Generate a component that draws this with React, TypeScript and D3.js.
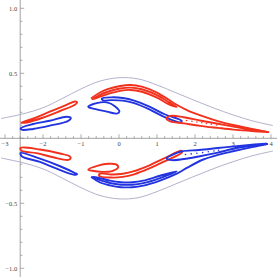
import React from "react";
import * as d3 from "d3";

type P = [number, number];

const W = 277;
const H = 277;

const xMajor = [-3, -2, -1, 0, 1, 2, 3, 4];
const xLabels = ["\u22123", "\u22122", "\u22121", "0", "1", "2", "3", "4"];
const yMajor = [-1, -0.5, 0.5, 1];
const yLabels = ["\u22121.0", "\u22120.5", "0.5", "1.0"];

// gray envelopes
const grayUpper: P[] = [[-3.1, 0.152], [-2.5, 0.19], [-2, 0.235], [-1.5, 0.305], [-1, 0.38], [-0.5, 0.44], [0, 0.466], [0.5, 0.457], [1, 0.41], [1.5, 0.35], [2, 0.29], [2.5, 0.232], [3, 0.18], [3.5, 0.135], [4.05, 0.098]];
const grayLower: P[] = [[-3.1, -0.152], [-2.5, -0.19], [-2, -0.235], [-1.5, -0.305], [-1, -0.38], [-0.5, -0.44], [0, -0.466], [0.5, -0.457], [1, -0.41], [1.5, -0.35], [2, -0.29], [2.5, -0.232], [3, -0.18], [3.5, -0.135], [4.05, -0.098]];

// ---------- upper half ----------
const redLeafUpper: P[] = [[-2.57, 0.12], [-2.26, 0.152], [-1.82, 0.205], [-1.38, 0.258], [-1.16, 0.283], [-1.1, 0.277], [-1.16, 0.258], [-1.55, 0.21], [-1.99, 0.16], [-2.43, 0.122]];
const blueLeafUpper: P[] = [[-2.59, 0.077], [-2.26, 0.11], [-1.82, 0.135], [-1.38, 0.166], [-1.27, 0.158], [-1.33, 0.135], [-1.82, 0.097], [-2.26, 0.072], [-2.56, 0.066]];
const blueDropUpper: P[] = [[-0.81, 0.243], [-0.59, 0.27], [-0.32, 0.276], [-0.1, 0.245], [0.01, 0.205], [-0.06, 0.19], [-0.32, 0.205], [-0.59, 0.222], [-0.78, 0.236]];
const redBandOuterUpper: P[] = [[-0.72, 0.31], [-0.5, 0.352], [-0.3, 0.378], [0.03, 0.402], [0.3, 0.41], [0.6, 0.397], [1.0, 0.352], [1.3, 0.298], [1.52, 0.258], [1.8, 0.215], [2.2, 0.17], [2.6, 0.132], [3.0, 0.102], [3.5, 0.072], [3.93, 0.048]];
const redBandLoopUpper: P[] = [[-0.7, 0.3], [-0.5, 0.335], [-0.3, 0.358], [0.03, 0.383], [0.3, 0.39], [0.6, 0.377], [1.0, 0.332], [1.3, 0.28], [1.52, 0.242], [1.3, 0.263], [1.0, 0.313], [0.6, 0.358], [0.3, 0.372], [0.03, 0.365], [-0.3, 0.34], [-0.5, 0.32]];
const blueBandUpper: P[] = [[-0.45, 0.306], [-0.2, 0.315], [0.1, 0.31], [0.4, 0.29], [0.8, 0.243], [1.2, 0.185], [1.65, 0.134], [1.62, 0.122], [1.2, 0.163], [0.8, 0.222], [0.4, 0.27], [0.1, 0.29], [-0.2, 0.294], [-0.42, 0.292]];
const redLoopUpper: P[] = [[1.25, 0.15], [1.35, 0.172], [1.7, 0.162], [2.13, 0.137], [2.6, 0.112], [3.01, 0.09], [3.5, 0.066], [3.93, 0.047], [3.5, 0.056], [3.01, 0.067], [2.6, 0.08], [2.13, 0.096], [1.7, 0.115], [1.35, 0.13]];
const redDotsUpper: P[] = [[1.78, 0.137], [1.92, 0.131], [2.05, 0.125], [2.18, 0.12], [2.3, 0.114], [2.43, 0.108], [2.57, 0.102]];

// ---------- lower half ----------
const redLeafLower: P[] = [[-2.59, -0.074], [-2.08, -0.086], [-1.55, -0.117], [-1.3, -0.138], [-1.27, -0.15], [-1.33, -0.166], [-1.73, -0.146], [-2.17, -0.114], [-2.56, -0.096]];
const blueLeafLower: P[] = [[-2.59, -0.113], [-2.08, -0.157], [-1.55, -0.215], [-1.16, -0.267], [-1.1, -0.277], [-1.2, -0.279], [-1.64, -0.234], [-2.08, -0.182], [-2.56, -0.138]];
const redDropLower: P[] = [[-0.81, -0.241], [-0.55, -0.21], [-0.28, -0.196], [-0.08, -0.2], [-0.02, -0.222], [-0.18, -0.252], [-0.45, -0.258], [-0.7, -0.25]];
const blueBandOuterLower: P[] = [[-0.72, -0.3], [-0.5, -0.34], [-0.24, -0.362], [0.05, -0.376], [0.35, -0.376], [0.64, -0.364], [1.08, -0.325], [1.52, -0.272], [1.8, -0.225], [2.2, -0.165], [2.6, -0.128], [3.0, -0.1], [3.5, -0.068], [3.9, -0.045]];
const blueBandLoopLower: P[] = [[-0.7, -0.296], [-0.5, -0.322], [-0.24, -0.344], [0.05, -0.357], [0.35, -0.357], [0.64, -0.345], [1.08, -0.306], [1.52, -0.254], [1.08, -0.288], [0.64, -0.326], [0.35, -0.338], [0.05, -0.338], [-0.24, -0.326], [-0.5, -0.306]];
const redBandLower: P[] = [[-0.52, -0.29], [-0.2, -0.302], [0.1, -0.297], [0.4, -0.277], [0.8, -0.232], [1.2, -0.177], [1.66, -0.108], [1.64, -0.096], [1.2, -0.153], [0.8, -0.208], [0.4, -0.253], [0.1, -0.273], [-0.2, -0.278], [-0.5, -0.272]];
const blueLoopLower: P[] = [[1.25, -0.155], [1.4, -0.128], [1.66, -0.1], [2.1, -0.09], [2.6, -0.075], [3.1, -0.06], [3.5, -0.05], [3.9, -0.04], [3.5, -0.058], [3.1, -0.075], [2.57, -0.112], [2.1, -0.14], [1.8, -0.155], [1.4, -0.168]];
const blueDotsLower: P[] = [[1.75, -0.125], [1.9, -0.12], [2.05, -0.115], [2.2, -0.11], [2.35, -0.104], [2.5, -0.098], [2.62, -0.092]];

const RED = "#f2311d";
const BLUE = "#2233e0";
const GRAY = "#b4b2cc";
const AXIS = "#8a8a8a";

export default function App() {
  const x = d3.scaleLinear().domain([-3, 4]).range([5, 271]);
  const y = d3.scaleLinear().domain([-1, 1]).range([268.3, 8.3]);
  const closed = d3.line<P>().x((d) => x(d[0])).y((d) => y(d[1])).curve(d3.curveCatmullRomClosed.alpha(0.5));
  const open = d3.line<P>().x((d) => x(d[0])).y((d) => y(d[1])).curve(d3.curveCatmullRom.alpha(0.5));

  const x0 = y(0);
  const yAxisX = x(-2.6);
  const xMinor = d3.range(-31, 42).map((i) => i / 10).filter((v) => Math.abs(v * 5 - Math.round(v * 5)) < 1e-6);
  const yMinor = d3.range(-10, 11).map((i) => i / 10);

  const sw = 1.9;
  return (
    <svg width={W} height={H} style={{ position: "absolute", left: 0, top: 0, background: "#fff" }} fontFamily="'Liberation Serif', 'DejaVu Serif', serif">
      {/* axes */}
      <line x1={0} x2={W} y1={x0} y2={x0} stroke={AXIS} strokeWidth={0.8} />
      <line x1={yAxisX} x2={yAxisX} y1={0} y2={H} stroke={AXIS} strokeWidth={0.8} />
      {xMinor.map((v, i) => {
        const major = Math.abs(v - Math.round(v)) < 1e-6;
        return <line key={"xt" + i} x1={x(v)} x2={x(v)} y1={x0} y2={x0 - (major ? 4 : 2.2)} stroke={AXIS} strokeWidth={0.7} />;
      })}
      {yMinor.map((v, i) => {
        const major = Math.abs(v * 2 - Math.round(v * 2)) < 1e-6;
        return <line key={"yt" + i} x1={yAxisX} x2={yAxisX + (major ? 4 : 2.2)} y1={y(v)} y2={y(v)} stroke={AXIS} strokeWidth={0.7} />;
      })}
      {xMajor.map((v, i) => (
        <text key={"xl" + i} x={x(v)} y={x0 + 8} fontSize={6.5} textAnchor="middle" fill="#444">{xLabels[i]}</text>
      ))}
      {yMajor.map((v, i) => (
        <text key={"yl" + i} x={yAxisX - 3} y={y(v) + 2.2} fontSize={6.5} textAnchor="end" fill="#444">{yLabels[i]}</text>
      ))}

      {/* envelopes */}
      <path d={open(grayUpper) || ""} fill="none" stroke={GRAY} strokeWidth={1} />
      <path d={open(grayLower) || ""} fill="none" stroke={GRAY} strokeWidth={1} />

      {/* upper half */}
      <g fill="none" strokeWidth={sw} strokeLinejoin="round" strokeLinecap="round">
        <path d={closed(blueLeafUpper) || ""} stroke={BLUE} />
        <path d={closed(blueDropUpper) || ""} stroke={BLUE} />
        <path d={closed(blueBandUpper) || ""} stroke={BLUE} />
        <path d={closed(redLeafUpper) || ""} stroke={RED} />
        <path d={open(redBandOuterUpper) || ""} stroke={RED} />
        <path d={closed(redBandLoopUpper) || ""} stroke={RED} />
        <path d={closed(redLoopUpper) || ""} stroke={RED} />

        <path d={closed(redLeafLower) || ""} stroke={RED} />
        <path d={closed(redDropLower) || ""} stroke={RED} />
        <path d={closed(redBandLower) || ""} stroke={RED} />
        <path d={closed(blueLeafLower) || ""} stroke={BLUE} />
        <path d={open(blueBandOuterLower) || ""} stroke={BLUE} />
        <path d={closed(blueBandLoopLower) || ""} stroke={BLUE} />
        <path d={closed(blueLoopLower) || ""} stroke={BLUE} />
      </g>
      {redDotsUpper.map((d, i) => <circle key={"rd" + i} cx={x(d[0])} cy={y(d[1])} r={0.8} fill={RED} />)}
      {blueDotsLower.map((d, i) => <circle key={"bd" + i} cx={x(d[0])} cy={y(d[1])} r={0.8} fill={BLUE} />)}
    </svg>
  );
}
